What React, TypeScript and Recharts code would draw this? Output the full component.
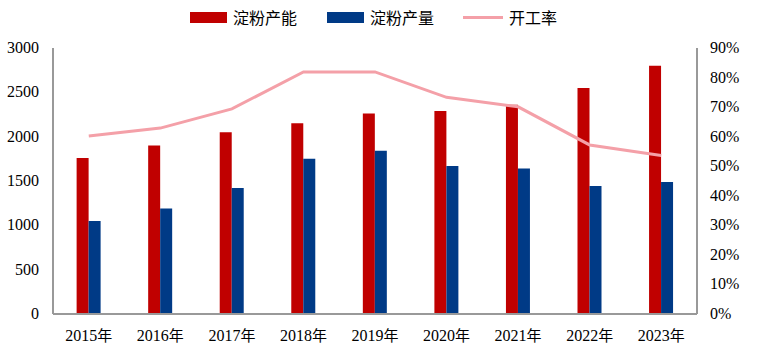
import { ComposedChart, Bar, Line, XAxis, YAxis } from 'recharts'

const years = ['2015年', '2016年', '2017年', '2018年', '2019年', '2020年', '2021年', '2022年', '2023年']
const capacity = [1760, 1900, 2050, 2150, 2260, 2290, 2360, 2550, 2800]
const output = [1050, 1190, 1420, 1750, 1840, 1670, 1640, 1445, 1490]
const utilization = [60.2, 62.9, 69.4, 81.9, 81.9, 73.3, 70.1, 57.2, 53.6]
const leftTicks = [0, 500, 1000, 1500, 2000, 2500, 3000]
const rightTicks = [0, 10, 20, 30, 40, 50, 60, 70, 80, 90]

const data = years.map((year, i) => ({
  year,
  capacity: capacity[i],
  output: output[i],
  rate: utilization[i]
}))

const RED = '#c00000'
const BLUE = '#003a86'
const PINK = '#f4a0a8'
const AXIS = '#999999'
const SERIF = 'Liberation Serif'
const CJK_FONT = '"Noto Sans CJK SC", "Noto Sans", sans-serif'

const legendItems = [
  { label: '淀粉产能', color: RED, type: 'rect', x: 190 },
  { label: '淀粉产量', color: BLUE, type: 'rect', x: 327 },
  { label: '开工率', color: PINK, type: 'line', x: 463 }
]

function ChartLegend() {
  return (
    <div style={{ position: 'absolute', left: 0, top: 0, width: 759, height: 34 }}>
      {legendItems.map((item) => (
        <div
          key={item.label}
          style={{ position: 'absolute', left: item.x, top: 7, display: 'flex', alignItems: 'center' }}
        >
          <div
            style={{
              width: item.type === 'rect' ? 37 : 40,
              height: item.type === 'rect' ? 11 : 3,
              background: item.color,
              marginRight: 6
            }}
          />
          <span style={{ fontFamily: CJK_FONT, fontSize: 16, color: '#000', lineHeight: '20px' }}>
            {item.label}
          </span>
        </div>
      ))}
    </div>
  )
}

function XTick(props: any) {
  const { x, y, payload } = props
  const label: string = payload.value
  const num = label.replace('年', '')
  return (
    <text x={x} y={y + 25} textAnchor="middle" fontSize={16} fill="#000">
      <tspan fontFamily={SERIF}>{num}</tspan>
      <tspan fontFamily="Noto Sans CJK SC" fontSize={15}>年</tspan>
    </text>
  )
}

function LeftTick(props: any) {
  const { x, y, payload } = props
  return (
    <text x={x - 12} y={y + 5} textAnchor="end" fontSize={16} fontFamily={SERIF} fill="#000">
      {payload.value}
    </text>
  )
}

function RightTick(props: any) {
  const { x, y, payload } = props
  return (
    <text x={x + 11} y={y + 5} textAnchor="start" fontSize={16} fontFamily={SERIF} fill="#000">
      {`${payload.value}%`}
    </text>
  )
}

export default function App() {
  return (
    <div style={{ position: 'absolute', left: 0, top: 0, width: 759, height: 364, background: '#fff' }}>
      <ComposedChart
        width={759}
        height={364}
        data={data}
        margin={{ top: 48, right: 0, left: 0, bottom: 0 }}
        barGap={0}
        barCategoryGap="33%"
      >
        <XAxis
          dataKey="year"
          height={50}
          tickLine={false}
          tickSize={0}
          stroke={AXIS}
          strokeWidth={2}
          tick={<XTick />}
        />
        <YAxis
          yAxisId="left"
          width={53}
          domain={[0, 3000]}
          ticks={leftTicks}
          tickLine={false}
          tickSize={0}
          stroke={AXIS}
          strokeWidth={2}
          tick={<LeftTick />}
        />
        <YAxis
          yAxisId="right"
          orientation="right"
          width={62}
          domain={[0, 90]}
          ticks={rightTicks}
          tickLine={false}
          tickSize={0}
          stroke={AXIS}
          strokeWidth={2}
          tick={<RightTick />}
        />
        <Bar yAxisId="left" dataKey="capacity" name="淀粉产能" fill={RED} isAnimationActive={false} />
        <Bar yAxisId="left" dataKey="output" name="淀粉产量" fill={BLUE} isAnimationActive={false} />
        <Line
          yAxisId="right"
          dataKey="rate"
          name="开工率"
          type="linear"
          stroke={PINK}
          strokeWidth={3}
          dot={false}
          isAnimationActive={false}
        />
      </ComposedChart>
      <ChartLegend />
    </div>
  )
}
